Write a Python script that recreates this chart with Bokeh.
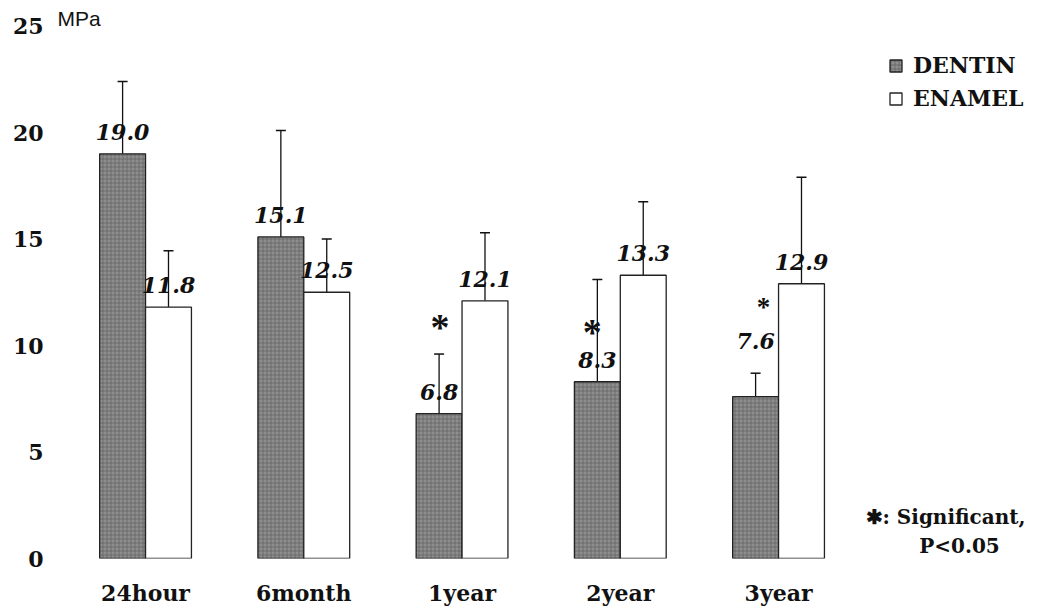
from bokeh.plotting import figure
from bokeh.models import (ColumnDataSource, Range1d, FixedTicker, Whisker, TeeHead,
                          Legend, LegendItem, Label)
from bokeh.core.properties import value
from bokeh.embed import file_html
from bokeh.resources import INLINE

# ---- data ----
groups = ["24hour", "6month", "1year", "2year", "3year"]
dentin = [19.0, 15.1, 6.8, 8.3, 7.6]
enamel = [11.8, 12.5, 12.1, 13.3, 12.9]
dentin_err = [3.4, 5.0, 2.8, 4.8, 1.1]
enamel_err = [2.65, 2.5, 3.2, 3.45, 5.0]
y_ticks = [0, 5, 10, 15, 20, 25]
sig_groups = ["1year", "2year", "3year"]
sig_height = [11.1, 10.9, 12.0]

# ---- layout / style constants ----
W, H = 1039, 615
BL, BR, BT, BB = 55, 0, 10, 57
bw = 0.29
half = bw / 2
xs = list(range(len(groups)))
dentin_label_dy = [-22, -22, -22, -22, -56]   # screen px above bar top
enamel_label_dy = [-22, -22, -22, -22, -22]

p = figure(width=W, height=H, output_backend="svg", toolbar_location=None,
           x_range=Range1d(-0.569, 5.649), y_range=Range1d(0, 25.73),
           min_border_left=BL, min_border_right=BR, min_border_top=BT,
           min_border_bottom=BB)
p.outline_line_color = None
p.xgrid.visible = False
p.ygrid.visible = False
p.background_fill_color = "white"
p.border_fill_color = "white"

d_src = ColumnDataSource(dict(x=[x - half for x in xs], top=dentin,
                              upper=[v + e for v, e in zip(dentin, dentin_err)],
                              lab=[f"{v:.1f}" for v in dentin], dy=dentin_label_dy))
e_src = ColumnDataSource(dict(x=[x + half for x in xs], top=enamel,
                              upper=[v + e for v, e in zip(enamel, enamel_err)],
                              lab=[f"{v:.1f}" for v in enamel], dy=enamel_label_dy))

rd = p.vbar(x="x", top="top", bottom=0, width=bw, source=d_src,
            fill_color="#8e8e8e", line_color="#222222", line_width=1.3,
            hatch_pattern="cross", hatch_color="#505050", hatch_scale=4,
            hatch_weight=1, hatch_alpha=0.5)
re_ = p.vbar(x="x", top="top", bottom=0, width=bw, source=e_src,
             fill_color="white", line_color="#222222", line_width=1.3)

for src in (d_src, e_src):
    w = Whisker(source=src, base="x", upper="upper", lower="top",
                line_color="#111111", line_width=1.3,
                upper_head=TeeHead(size=10, line_color="#111111", line_width=1.5),
                lower_head=None)
    p.add_layout(w)

label_kw = dict(text="lab", text_align="center", text_baseline="middle",
                y_offset="dy", text_font_size="22px", text_font_style="bold italic",
                text_color="#111111", text_font=value("DejaVu Serif"))
p.text(x="x", y="top", source=d_src, **label_kw)
p.text(x="x", y="top", source=e_src, **label_kw)

# significance asterisks
sig_idx = [groups.index(g) for g in sig_groups]
s_src = ColumnDataSource(dict(x=[xs[i] - half for i in sig_idx], y=sig_height,
                              t=["*"] * len(sig_idx),
                              size=["38px", "38px", "27px"],
                              xo=[1, -5, 8], yo=[5, 6, 4]))
p.text(x="x", y="y", text="t", source=s_src, text_font=value("Liberation Serif"),
       text_font_style="bold", text_font_size="size", text_align="center",
       text_baseline="alphabetic", x_offset="xo", y_offset="yo", text_color="#111111")

# axes
p.xaxis.ticker = FixedTicker(ticks=xs)
p.xaxis.major_label_overrides = {i: g for i, g in zip(xs, groups)}
p.yaxis.ticker = FixedTicker(ticks=y_ticks)
for ax in (p.xaxis[0], p.yaxis[0]):
    ax.axis_line_color = None
    ax.major_tick_line_color = None
    ax.minor_tick_line_color = None
    ax.major_tick_out = 0
    ax.major_tick_in = 0
    ax.major_label_text_font = "DejaVu Serif"
    ax.major_label_text_font_style = "bold"
    ax.major_label_text_font_size = "22px"
    ax.major_label_text_color = "#111111"
p.xaxis.major_label_standoff = 21
p.yaxis.major_label_standoff = 12

# legend
legend = Legend(items=[LegendItem(label="DENTIN", renderers=[rd]),
                       LegendItem(label="ENAMEL", renderers=[re_])],
                location=(833, 447), glyph_width=15, glyph_height=15,
                label_text_font="DejaVu Serif", label_text_font_style="bold",
                label_text_font_size="22px", label_text_color="#111111",
                label_standoff=10, spacing=7, padding=0, margin=0,
                border_line_color=None, background_fill_alpha=0)
p.add_layout(legend)

# unit label and footnote
p.add_layout(Label(x=2, y=540, x_units="screen", y_units="screen", text="MPa",
                   text_font="Liberation Sans", text_font_size="21px",
                   text_baseline="middle", text_color="#111111"))
p.add_layout(Label(x=810, y=42, x_units="screen", y_units="screen",
                   text="\u2731: Significant,", text_font="DejaVu Serif",
                   text_font_style="bold", text_font_size="20px",
                   text_baseline="middle", text_color="#111111"))
p.add_layout(Label(x=904, y=13, x_units="screen", y_units="screen",
                   text="P<0.05", text_font="DejaVu Serif", text_align="center",
                   text_font_style="bold", text_font_size="20px",
                   text_baseline="middle", text_color="#111111"))

open("out.html", "w").write(file_html(p, INLINE))
